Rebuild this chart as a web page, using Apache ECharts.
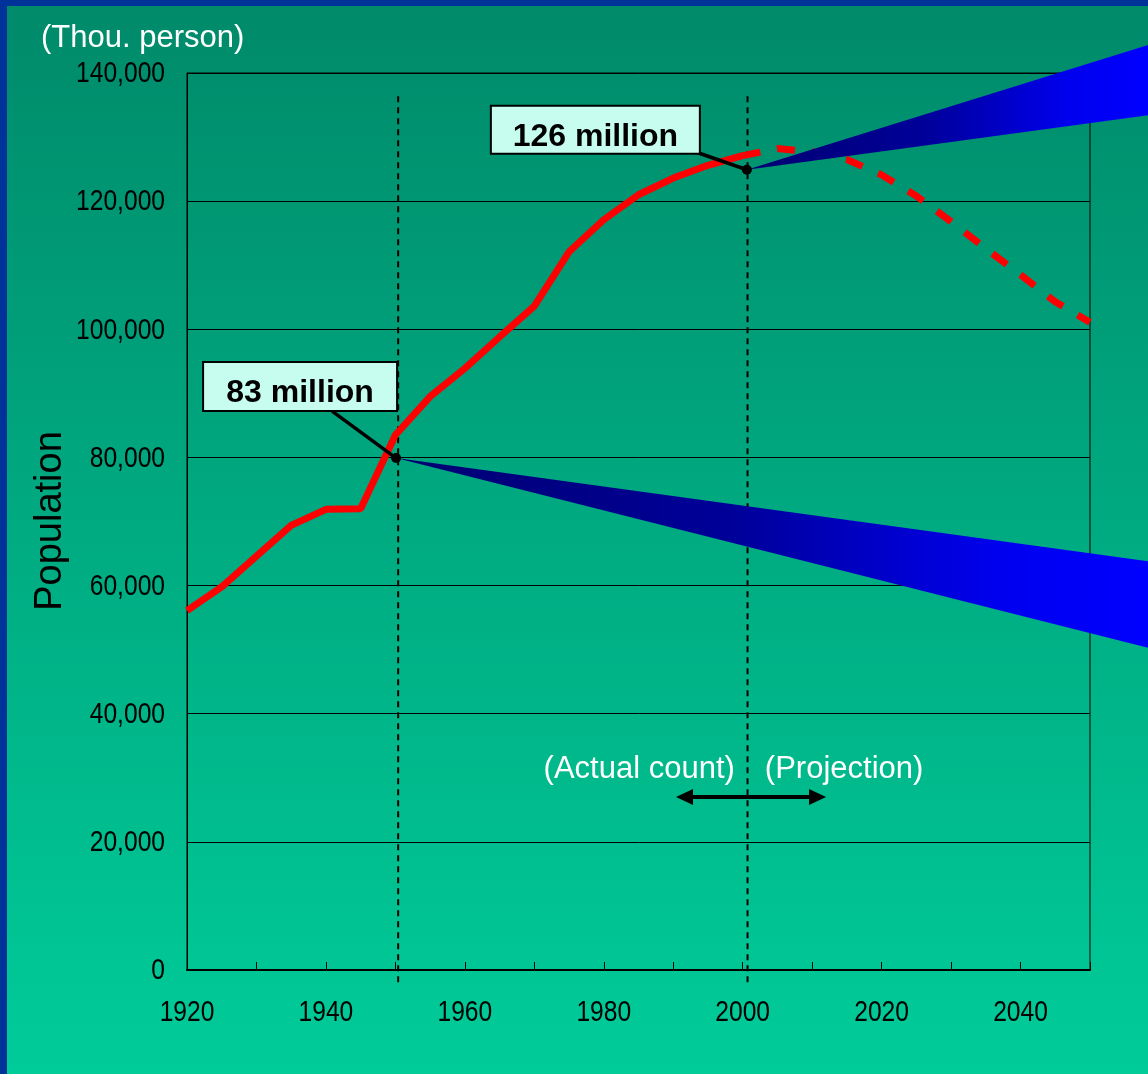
<!DOCTYPE html>
<html>
<head>
<meta charset="utf-8">
<title>Population</title>
<script src="https://cdn.jsdelivr.net/npm/echarts@6/dist/echarts.min.js"></script>
<style>
  html, body { margin: 0; padding: 0; }
  #container { width: 1148px; height: 1074px; }
</style>
</head>
<body>
<div id="container"></div>
<script>
// census counts (thou. person)
var actualYears = [1920, 1925, 1930, 1935, 1940, 1945, 1950, 1955, 1960, 1965, 1970, 1975, 1980, 1985, 1990, 1995, 2000];
var actualPop = [56100, 59800, 64600, 69400, 71900, 72000, 83500, 89500, 93900, 98800, 103600, 112100, 117100, 121000, 123600, 125600, 127100];

// projection
var projYears = [2000, 2005, 2010, 2015, 2020, 2025, 2030, 2035, 2040, 2045, 2050];
var projPop = [127100, 128200, 127700, 126500, 124100, 120800, 116800, 112600, 108500, 104300, 101100];

// wedges: [start year, start value, end year, end upper, end lower]
var wedges = [
    [2000.6, 124900, 2058.4, 144400, 133400],
    [1950.1, 79900, 2058.4, 63800, 50300]
];

// callouts: [year, value], text
var calloutPoints = [[1950.1, 79900], [2000.6, 124900]];
var calloutLabels = ['83 million', '126 million'];

// dashed dividers: [year, from, to]
var dividers = [[1950.4, -1900, 137000], [2000.7, -1900, 137000]];

// actual / projection arrow: [from year, to year, value, split year]
var arrowNote = [[1990.4, 2012.0, 27000, 2000.6]];
var arrowLabels = ['(Actual count)', '(Projection)'];

// tick labels
var xLabelYears = [1920, 1940, 1960, 1980, 2000, 2020, 2040];
var yLabelValues = [0, 20000, 40000, 60000, 80000, 100000, 120000, 140000];

var yTicks = { min: 0, max: 140000, step: 20000 };
var xTicks = { min: 1920, max: 2050, step: 10 };

// ---------- chart ----------
var dom = document.getElementById('container');
var myChart = echarts.init(dom, null, { renderer: 'canvas' });

var plainFont = '"Liberation Sans", Arial, sans-serif';

function toPairs(xs, ys) {
    return xs.map(function (x, i) { return [x, ys[i]]; });
}

// box offsets relative to the dot, in pixels
var calloutBoxes = [
    { dx: -193, dy: -96, w: 194, h: 49, lx: -64, ly: -47 },
    { dx: -256, dy: -64, w: 209, h: 48, lx: -49, ly: -17 }
];

// narrow tick label (the original uses a condensed face)
function tickText(x, y, text, align) {
    return {
        type: 'text', x: x, y: y, scaleX: 0.82,
        style: {
            text: text, fill: '#000', font: '30px ' + plainFont,
            align: align, verticalAlign: 'middle'
        }
    };
}

var option = {
    animation: false,
    graphic: [
        {
            type: 'rect', z: -10,
            shape: { x: 0, y: 0, width: 1148, height: 1074 },
            style: {
                fill: new echarts.graphic.LinearGradient(0, 0, 0, 1, [
                    { offset: 0, color: '#008a6a' },
                    { offset: 1, color: '#00cc99' }
                ])
            }
        },
        { type: 'rect', z: -9, shape: { x: 0, y: 0, width: 7, height: 1074 }, style: { fill: '#003399' } },
        { type: 'rect', z: -9, shape: { x: 0, y: 0, width: 1148, height: 6 }, style: { fill: '#003399' } },
        {
            type: 'text', left: 41, top: 23,
            style: { text: '(Thou. person)', fill: '#ffffff', font: '31px ' + plainFont }
        },
        {
            type: 'text', x: 51, y: 521, rotation: Math.PI / 2,
            style: {
                text: 'Population', fill: '#000000', font: '38px ' + plainFont,
                align: 'center', verticalAlign: 'middle'
            }
        }
    ],
    grid: {
        left: 187, right: 58, top: 73, bottom: 104,
        show: true, borderColor: '#000', borderWidth: 1, backgroundColor: 'transparent'
    },
    xAxis: {
        type: 'value',
        min: xTicks.min, max: xTicks.max, interval: xTicks.step,
        axisLine: { lineStyle: { color: '#000', width: 2 } },
        axisTick: { show: true, inside: true, length: 8, lineStyle: { color: '#000', width: 1 } },
        splitLine: { show: false },
        axisLabel: { show: false }
    },
    yAxis: {
        type: 'value',
        min: yTicks.min, max: yTicks.max, interval: yTicks.step,
        axisLine: { show: true, lineStyle: { color: '#000', width: 1 } },
        axisTick: { show: false },
        splitLine: { show: true, lineStyle: { color: '#000', width: 1 } },
        axisLabel: { show: false }
    },
    series: [
        {
            name: 'xLabels',
            type: 'custom',
            clip: false,
            silent: true,
            data: xLabelYears.map(function (y) { return [y, 0]; }),
            renderItem: function (params, api) {
                var p = api.coord([api.value(0), api.value(1)]);
                return tickText(p[0], p[1] + 43, String(api.value(0)), 'center');
            }
        },
        {
            name: 'yLabels',
            type: 'custom',
            clip: false,
            silent: true,
            data: yLabelValues.map(function (v) { return [xTicks.min, v]; }),
            renderItem: function (params, api) {
                var p = api.coord([api.value(0), api.value(1)]);
                return tickText(p[0] - 22, p[1] + 1, api.value(1).toLocaleString('en-US'), 'right');
            }
        },
        {
            name: 'dividers',
            type: 'custom',
            clip: false,
            z: 1,
            data: dividers,
            renderItem: function (params, api) {
                var a = api.coord([api.value(0), api.value(1)]);
                var b = api.coord([api.value(0), api.value(2)]);
                return {
                    type: 'line',
                    shape: { x1: a[0], y1: a[1], x2: b[0], y2: b[1] },
                    style: { stroke: '#000', lineWidth: 2, lineDash: [6, 5] }
                };
            }
        },
        {
            name: 'Actual',
            type: 'line',
            z: 3,
            data: toPairs(actualYears, actualPop),
            symbol: 'none',
            lineStyle: { color: '#ff0000', width: 7 }
        },
        {
            name: 'Projection',
            type: 'line',
            z: 3,
            data: toPairs(projYears, projPop),
            symbol: 'none',
            lineStyle: { color: '#ff0000', width: 7, type: [18, 17] }
        },
        {
            name: 'wedges',
            type: 'custom',
            clip: false,
            z: 4,
            data: wedges,
            renderItem: function (params, api) {
                var p0 = api.coord([api.value(0), api.value(1)]);
                var p1 = api.coord([api.value(2), api.value(3)]);
                var p2 = api.coord([api.value(2), api.value(4)]);
                return {
                    type: 'polygon',
                    shape: { points: [p0, p1, p2] },
                    style: {
                        fill: new echarts.graphic.LinearGradient(0, 0, 1, 0, [
                            { offset: 0, color: '#000070' },
                            { offset: 0.45, color: '#00009a' },
                            { offset: 0.8, color: '#0000ee' },
                            { offset: 1, color: '#0000ff' }
                        ])
                    }
                };
            }
        },
        {
            name: 'callouts',
            type: 'custom',
            clip: false,
            z: 6,
            data: calloutPoints,
            renderItem: function (params, api) {
                var i = params.dataIndex;
                var p = api.coord([api.value(0), api.value(1)]);
                var b = calloutBoxes[i];
                var bx = p[0] + b.dx, by = p[1] + b.dy;
                return {
                    type: 'group',
                    children: [
                        {
                            type: 'line',
                            shape: { x1: p[0] + b.lx, y1: p[1] + b.ly, x2: p[0], y2: p[1] },
                            style: { stroke: '#000', lineWidth: 3.5 }
                        },
                        {
                            type: 'circle',
                            shape: { cx: p[0], cy: p[1], r: 5 },
                            style: { fill: '#000' }
                        },
                        {
                            type: 'rect',
                            shape: { x: bx, y: by, width: b.w, height: b.h },
                            style: { fill: '#c6fdee', stroke: '#000', lineWidth: 2 }
                        },
                        {
                            type: 'text',
                            x: bx + b.w / 2, y: by + b.h / 2 + 7,
                            style: {
                                text: calloutLabels[i], fill: '#000',
                                font: 'bold 32px ' + plainFont,
                                align: 'center', verticalAlign: 'middle'
                            }
                        }
                    ]
                };
            }
        },
        {
            name: 'arrow',
            type: 'custom',
            clip: false,
            z: 5,
            data: arrowNote,
            renderItem: function (params, api) {
                var a = api.coord([api.value(0), api.value(2)]);
                var b = api.coord([api.value(1), api.value(2)]);
                var m = api.coord([api.value(3), api.value(2)]);
                var head = 17, half = 8;
                return {
                    type: 'group',
                    children: [
                        {
                            type: 'line',
                            shape: { x1: a[0] + 4, y1: a[1], x2: b[0] - 4, y2: b[1] },
                            style: { stroke: '#000', lineWidth: 4 }
                        },
                        {
                            type: 'polygon',
                            shape: { points: [[a[0], a[1]], [a[0] + head, a[1] - half], [a[0] + head, a[1] + half]] },
                            style: { fill: '#000' }
                        },
                        {
                            type: 'polygon',
                            shape: { points: [[b[0], b[1]], [b[0] - head, b[1] - half], [b[0] - head, b[1] + half]] },
                            style: { fill: '#000' }
                        },
                        {
                            type: 'text',
                            x: m[0] - 12, y: m[1] - 28,
                            style: {
                                text: arrowLabels[0], fill: '#fff', font: '31px ' + plainFont,
                                align: 'right', verticalAlign: 'middle'
                            }
                        },
                        {
                            type: 'text',
                            x: m[0] + 18, y: m[1] - 28,
                            style: {
                                text: arrowLabels[1], fill: '#fff', font: '31px ' + plainFont,
                                align: 'left', verticalAlign: 'middle'
                            }
                        }
                    ]
                };
            }
        }
    ]
};

if (option && typeof option === 'object') {
    myChart.setOption(option);
}

window.addEventListener('resize', myChart.resize);
</script>
</body>
</html>
